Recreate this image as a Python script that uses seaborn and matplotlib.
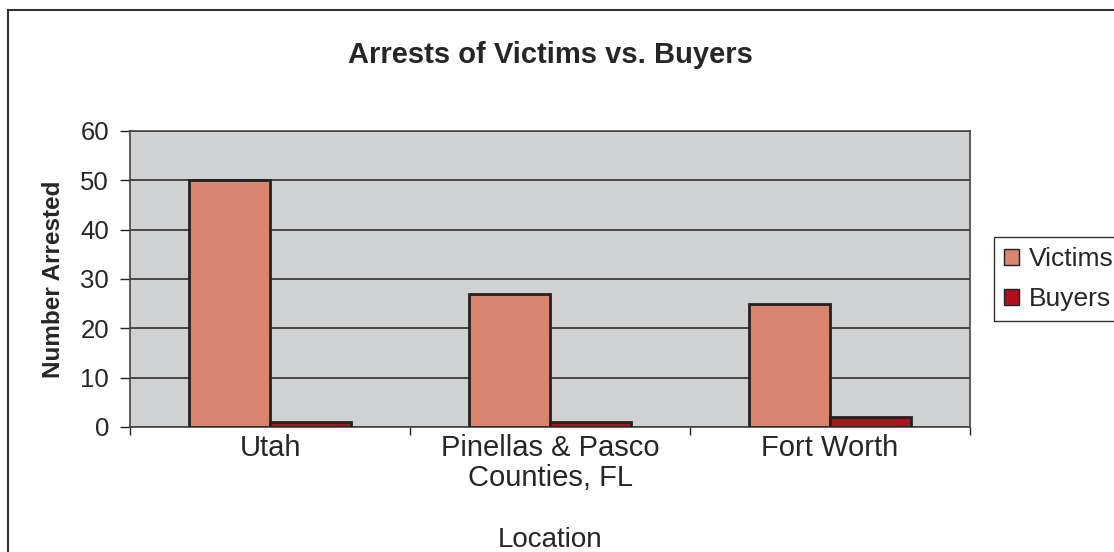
import pandas as pd
import seaborn as sns
import matplotlib.pyplot as plt
from matplotlib.patches import Rectangle

locations = ['Utah', 'Pinellas & Pasco\nCounties, FL', 'Fort Worth']
victims = [50, 27, 25]
buyers = [1, 1, 2]

df = pd.DataFrame({
    'Location': locations * 2,
    'Number Arrested': victims + buyers,
    'Group': ['Victims'] * 3 + ['Buyers'] * 3,
})

sns.set_theme(style='white')
plt.rcParams['font.family'] = ['Liberation Sans', 'DejaVu Sans']

W, H = 1114, 552
fig = plt.figure(figsize=(W / 100, H / 100), dpi=100)
ax = fig.add_axes([130 / W, 1 - 427 / H, 840 / W, 296 / H])
ax.set_facecolor('#d0d1d3')

sns.barplot(data=df, x='Location', y='Number Arrested', hue='Group',
            palette={'Victims': '#d98570', 'Buyers': '#b0101c'},
            width=0.58, edgecolor='#222222', linewidth=2, saturation=1,
            ax=ax, zorder=3)

ax.set_ylim(0, 60)
ax.set_xlim(-0.5, 2.5)
ax.set_yticks(range(0, 61, 10))
ax.yaxis.grid(True, color='#222222', linewidth=1.1, zorder=0)
ax.set_axisbelow(True)
for s in ax.spines.values():
    s.set_color('#444444')
    s.set_linewidth(1.2)

ax.tick_params(axis='y', length=7, width=1, color='#222222', labelsize=18.5, pad=8, left=True)
ax.tick_params(axis='x', length=0, labelsize=21, pad=5)
ax.set_xticks([-0.5, 0.5, 1.5, 2.5], minor=True)
ax.tick_params(axis='x', which='minor', length=6, width=1, color='#222222', bottom=True)
for t in ax.get_xticklabels():
    t.set_linespacing(1.1)

ax.set_ylabel('Number Arrested', fontsize=17.5, fontweight='bold', labelpad=11)
ax.set_xlabel('Location', fontsize=20, labelpad=25)
ax.set_title('Arrests of Victims vs. Buyers', fontsize=21, fontweight='bold', pad=49)

leg = ax.legend(loc='upper left', bbox_to_anchor=((994 - 130) / 840, 1 - (237 - 131) / 296),
                fontsize=19, frameon=True, fancybox=False, handlelength=0.58,
                handleheight=0.58, handletextpad=0.35, borderpad=0.38, labelspacing=0.62,
                borderaxespad=0)
leg.get_frame().set_edgecolor('black')
leg.get_frame().set_linewidth(1)
for h in leg.legend_handles:
    h.set_edgecolor('#222222')
    h.set_linewidth(1)

fig.patches.append(Rectangle((8 / W, -0.1), 1.2, 1.1 - 10 / H,
                             transform=fig.transFigure, fill=False,
                             edgecolor='#333333', linewidth=1.5))

fig.savefig('out.png', dpi=100)
